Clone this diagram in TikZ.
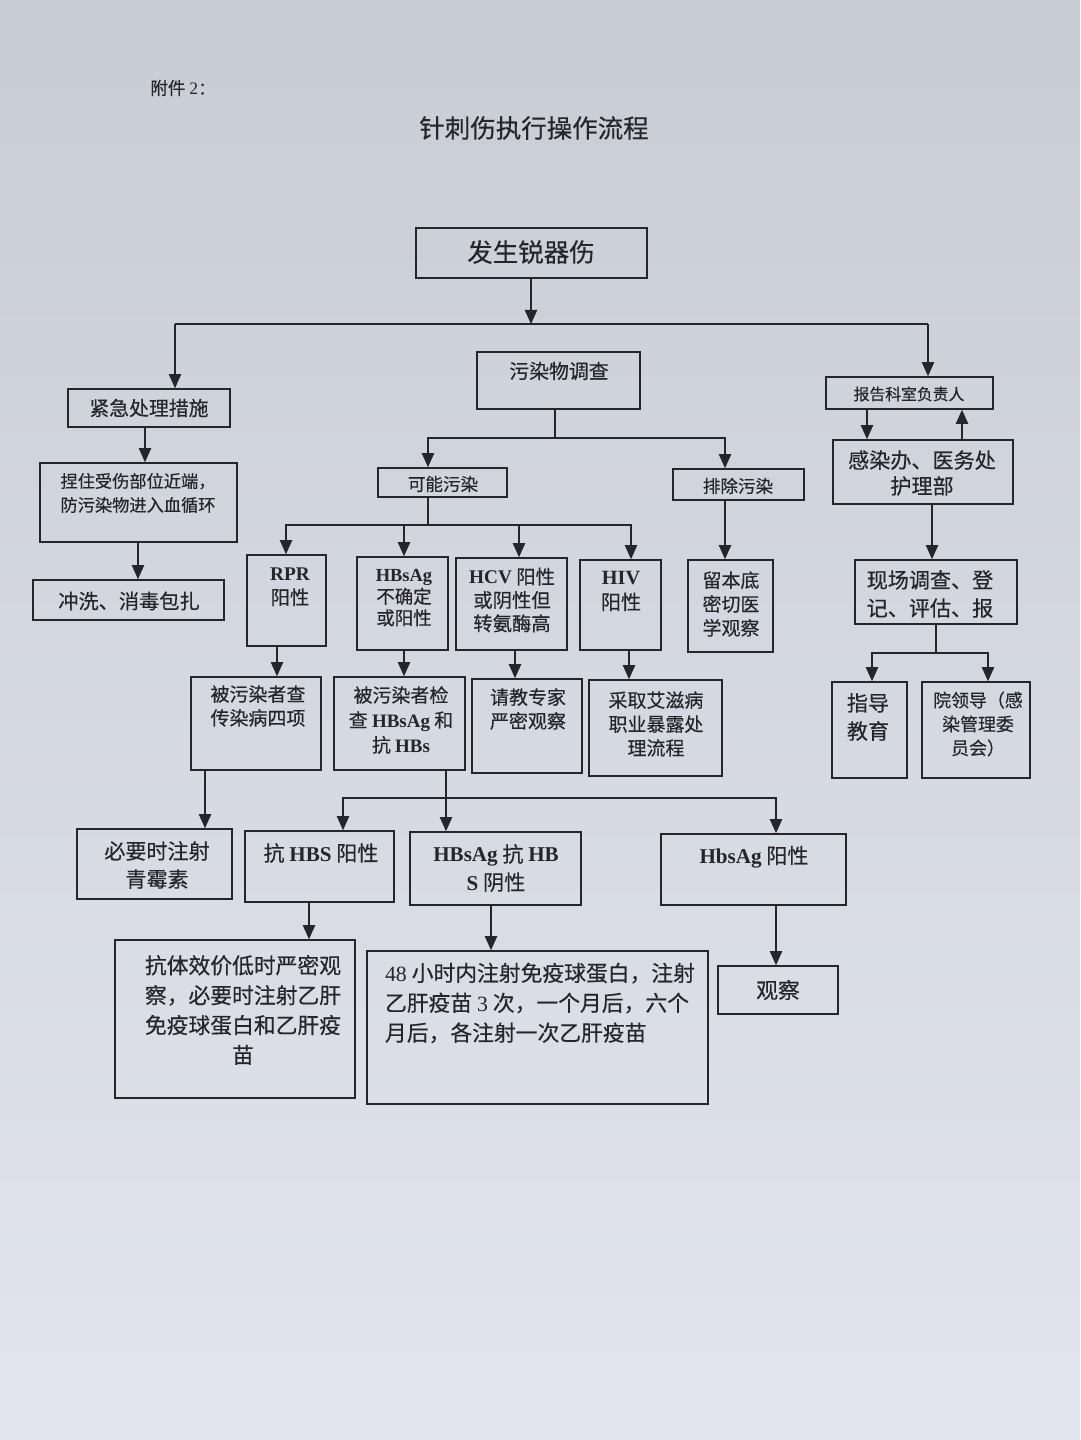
\documentclass[tikz,border=0pt]{standalone}
\usepackage{fontspec}
\setmainfont{Noto Sans CJK SC}[FakeBold=0.4]
\newfontfamily\lat{Liberation Serif}
\usetikzlibrary{arrows.meta,fit,calc}
\definecolor{paperT}{RGB}{200,204,212}
\definecolor{paperB}{RGB}{226,229,237}
\definecolor{ink}{RGB}{38,38,42}
\newcommand{\fs}[2]{\fontsize{#1}{#2}\selectfont}
\newcommand{\B}[1]{{\lat\bfseries #1}}
\tikzset{
  box/.style={draw=ink, line width=0.9pt, inner sep=0pt},
  txt/.style={text=ink, align=center, inner sep=0pt},
  arr/.style={draw=ink, line width=0.75pt, -{Triangle[length=8pt,width=7pt]}},
  ln/.style={draw=ink, line width=0.75pt},
}
\begin{document}
\begin{tikzpicture}[x=0.02cm,y=-0.02cm]
\useasboundingbox (0,0) rectangle (1080,1440);
\shade[top color=paperT, bottom color=paperB] (0,0) rectangle (1080,1440);

% titles
\node[txt, anchor=west, font=\fs{10}{12}] (fj) at (150,88) {附件 {\lat 2}：};
\node[txt, font=\fs{14.5}{17}] (title) at (534,128) {针刺伤执行操作流程};

% boxes
\node[box, fit={(416,228)(647,278)}] (top) {};
\node[box, fit={(68,389)(230,427)}] (jj) {};
\node[box, fit={(477,352)(640,409)}] (wr) {};
\node[box, fit={(826,377)(993,409)}] (bg) {};
\node[box, fit={(833,440)(1013,504)}] (gr) {};
\node[box, fit={(40,463)(237,542)}] (nz) {};
\node[box, fit={(33,580)(224,620)}] (cx) {};
\node[box, fit={(378,468)(507,497)}] (kn) {};
\node[box, fit={(673,469)(804,500)}] (pc) {};
\node[box, fit={(247,555)(326,646)}] (rpr) {};
\node[box, fit={(357,557)(448,650)}] (hbs) {};
\node[box, fit={(456,558)(567,650)}] (hcv) {};
\node[box, fit={(580,560)(661,650)}] (hiv) {};
\node[box, fit={(688,560)(773,652)}] (lb) {};
\node[box, fit={(855,560)(1017,624)}] (xc) {};
\node[box, fit={(832,682)(907,778)}] (zd) {};
\node[box, fit={(922,682)(1030,778)}] (yl) {};
\node[box, fit={(191,677)(321,770)}] (t1) {};
\node[box, fit={(334,677)(465,770)}] (t2) {};
\node[box, fit={(472,679)(582,773)}] (t3) {};
\node[box, fit={(589,680)(722,776)}] (t4) {};
\node[box, fit={(77,829)(232,899)}] (qm) {};
\node[box, fit={(245,831)(394,902)}] (kh) {};
\node[box, fit={(410,832)(581,905)}] (yx) {};
\node[box, fit={(661,834)(846,905)}] (hp) {};
\node[box, fit={(115,940)(355,1098)}] (kt) {};
\node[box, fit={(367,951)(708,1104)}] (hr48) {};
\node[box, fit={(718,966)(838,1014)}] (gc) {};

% texts
\node[txt, font=\fs{14.5}{17}] (topT) at (531,252) {发生锐器伤};
\node[txt, font=\fs{11.3}{14}] (jjT) at (149,408) {紧急处理措施};
\node[txt, font=\fs{11.3}{14}] (wrT) at (559,371) {污染物调查};
\node[txt, font=\fs{9}{11}] (bgT) at (909,394) {报告科室负责人};
\node[txt, font=\fs{12}{14.7}] (grT) at (922,473) {感染办、医务处\\护理部};
\node[txt, font=\fs{9.8}{13.6}] (nzT) at (138,493) {捏住受伤部位近端，\\防污染物进入血循环};
\node[txt, font=\fs{11.5}{14}] (cxT) at (129,601) {冲洗、消毒包扎};
\node[txt, font=\fs{10}{12}] (knT) at (443,484) {可能污染};
\node[txt, font=\fs{10}{12}] (pcT) at (738,486) {排除污染};
\node[txt, font=\fs{11}{13.6}] (rprT) at (290,587) {\B{RPR}\\阳性};
\node[txt, font=\fs{10.5}{12.2}] (hbsT) at (404,598) {\B{HBsAg}\\不确定\\或阳性};
\node[txt, font=\fs{11}{13.3}] (hcvT) at (512,600) {\B{HCV} 阳性\\或阴性但\\转氨酶高};
\node[txt, font=\fs{11.5}{14.5}] (hivT) at (621,591) {\B{HIV}\\阳性};
\node[txt, font=\fs{10.8}{13.6}] (lbT) at (731,604) {留本底\\密切医\\学观察};
\node[txt, font=\fs{12}{16}] (xcT) at (930,594) {现场调查、登\\记、评估、报};
\node[txt, font=\fs{12}{16}] (zdT) at (868,717) {指导\\教育};
\node[txt, font=\fs{10.2}{13.6}] (ylT) at (978,724) {院领导（感\\染管理委\\员会）};
\node[txt, font=\fs{10.8}{13.6}] (t1T) at (258,706) {被污染者查\\传染病四项};
\node[txt, font=\fs{10.8}{14.2}] (t2T) at (401,720) {被污染者检\\查 \B{HBsAg} 和\\抗 \B{HBs}};
\node[txt, font=\fs{10.8}{13.6}] (t3T) at (528,709) {请教专家\\严密观察};
\node[txt, font=\fs{10.8}{13.6}] (t4T) at (656,724) {采取艾滋病\\职业暴露处\\理流程};
\node[txt, font=\fs{12}{16}] (qmT) at (157,865) {必要时注射\\青霉素};
\node[txt, font=\fs{12}{14}] (khT) at (321,853) {抗 \B{HBS} 阳性};
\node[txt, font=\fs{12}{16}] (yxT) at (496,868) {\B{HBsAg} 抗 \B{HB}\\\B{S} 阴性};
\node[txt, font=\fs{12}{14}] (hpT) at (754,857) {\B{HbsAg} 阳性};
\node[txt, font=\fs{12.4}{17}] (ktT) at (243,1010) {抗体效价低时严密观\\察，必要时注射乙肝\\免疫球蛋白和乙肝疫\\苗};
\node[txt, align=left, font=\fs{12.4}{17}] (hr48T) at (540,1003) {{\lat 48} 小时内注射免疫球蛋白，注射\\乙肝疫苗 {\lat 3} 次，一个月后，六个\\月后，各注射一次乙肝疫苗};
\node[txt, font=\fs{12.4}{14}] (gcT) at (778,990) {观察};

% connectors
\coordinate (hj) at (531,324);
\coordinate (hl) at (175,324);
\coordinate (hr) at (928,324);
\draw[arr] (top.south -| hj) -- (hj);
\draw[ln] (hl) -- (hr);
\draw[arr] (hl) -- (jj.north -| hl);
\draw[arr] (hr) -- (bg.north -| hr);

\draw[arr] (bg.south -| 867,0) -- (gr.north -| 867,0);
\draw[arr] (gr.north -| 962,0) -- (bg.south -| 962,0);
\draw[arr] (gr.south -| 932,0) -- (xc.north -| 932,0);
\coordinate (xj) at (936,653);
\draw[ln] (xc.south -| xj) -- (xj);
\draw[arr] (xj) -| (zd.north -| 872,0);
\draw[arr] (xj) -| (yl.north -| 988,0);

\draw[arr] (jj.south -| 145,0) -- (nz.north -| 145,0);
\draw[arr] (nz.south -| 138,0) -- (cx.north -| 138,0);

\coordinate (wj) at (555,438);
\draw[ln] (wr.south -| wj) -- (wj);
\draw[arr] (wj) -| (kn.north -| 428,0);
\draw[arr] (wj) -| (pc.north -| 725,0);
\draw[arr] (pc.south -| 725,0) -- (lb.north -| 725,0);

\coordinate (kj) at (428,525);
\draw[ln] (kn.south -| kj) -- (kj);
\draw[arr] (kj) -| (rpr.north -| 286,0);
\draw[arr] (kj -| 404,0) -- (hbs.north -| 404,0);
\draw[arr] (kj) -| (hcv.north -| 519,0);
\draw[arr] (kj) -| (hiv.north -| 631,0);

\draw[arr] (rpr.south -| 277,0) -- (t1.north -| 277,0);
\draw[arr] (hbs.south -| 404,0) -- (t2.north -| 404,0);
\draw[arr] (hcv.south -| 515,0) -- (t3.north -| 515,0);
\draw[arr] (hiv.south -| 629,0) -- (t4.north -| 629,0);

\draw[arr] (t1.south -| 205,0) -- (qm.north -| 205,0);
\coordinate (bj) at (446,798);
\draw[arr] (t2.south -| bj) -- (yx.north -| bj);
\draw[arr] (bj) -| (kh.north -| 343,0);
\draw[arr] (bj) -| (hp.north -| 776,0);

\draw[arr] (kh.south -| 309,0) -- (kt.north -| 309,0);
\draw[arr] (yx.south -| 491,0) -- (hr48.north -| 491,0);
\draw[arr] (hp.south -| 776,0) -- (gc.north -| 776,0);
\end{tikzpicture}
\end{document}
